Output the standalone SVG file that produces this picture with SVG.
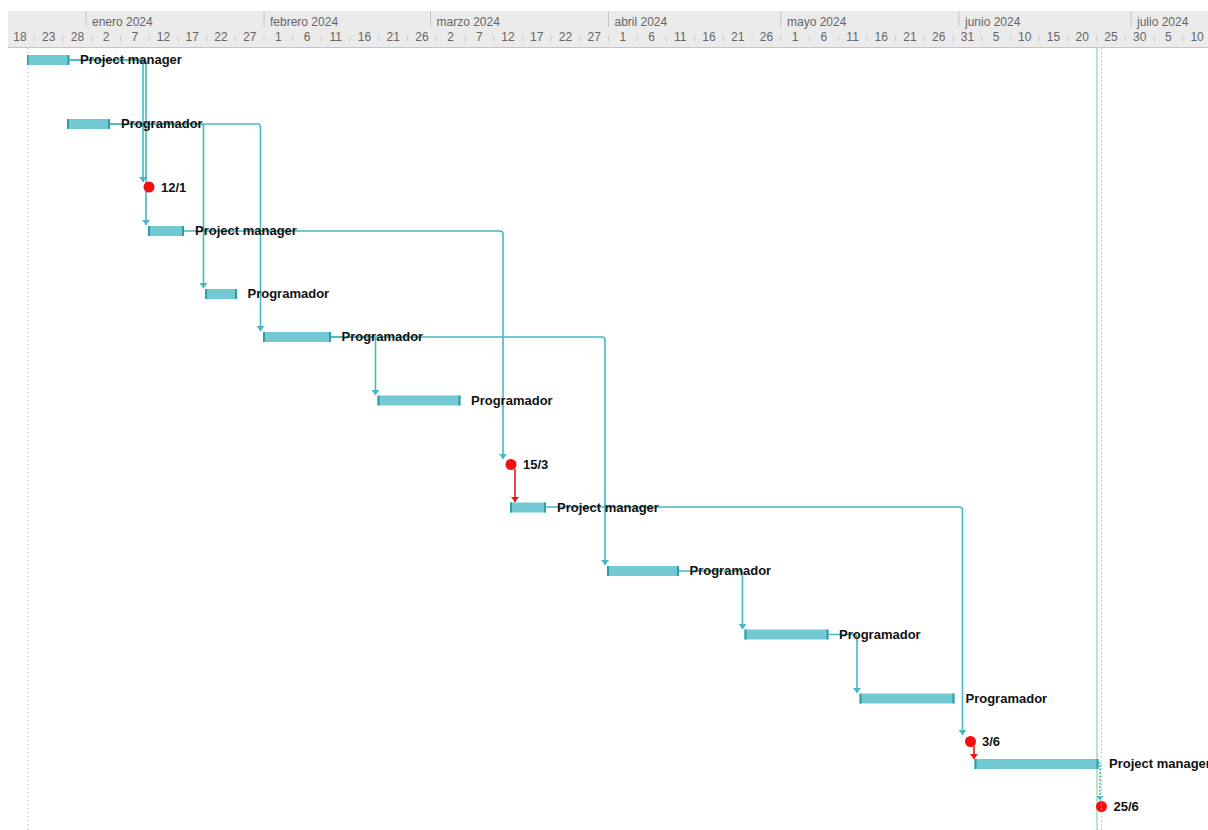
<svg xmlns="http://www.w3.org/2000/svg" width="1208" height="830" viewBox="0 0 1208 830">
  <style>
    .hdr { fill: #ebebeb; }
    .mon { font-family: "Liberation Sans", Arial, sans-serif; font-size: 12px; fill: #666; }
    .day { font-family: "Liberation Sans", Arial, sans-serif; font-size: 12px; fill: #666; text-anchor: middle; }
    .mline { stroke: #c6c6c6; stroke-width: 1; }
    .tick { stroke: #cfcfcf; stroke-width: 1; }
    .bar { fill: #73c9d1; }
    .cap { fill: #2b9da7; }
    .lbl { font-family: "Liberation Sans", Arial, sans-serif; font-size: 13px; font-weight: bold; fill: #111; }
    .conn { stroke: #45b8c2; stroke-width: 1.6; fill: none; }
    .conn-red { stroke: #e81515; stroke-width: 1.6; fill: none; }
    .ms { fill: #f20f0f; }
    .dots { stroke: #bdbdbd; stroke-width: 1; stroke-dasharray: 1.5 2.5; }
  </style>
  <defs>
    <marker id="arr" markerUnits="userSpaceOnUse" markerWidth="6" markerHeight="8" refX="5" refY="4" orient="auto" viewBox="0 0 6 8">
      <path d="M0,0 L5,4 L0,8 z" fill="#45b8c2"/>
    </marker>
    <marker id="arr-red" markerUnits="userSpaceOnUse" markerWidth="6" markerHeight="8" refX="5" refY="4" orient="auto" viewBox="0 0 6 8">
      <path d="M0,0 L5,4 L0,8 z" fill="#e81515"/>
    </marker>
  </defs>

  <rect width="1208" height="830" fill="#ffffff"/>

  <!-- timescale header -->
  <g id="timescale">
    <rect class="hdr" x="8" y="11" width="1200" height="37"/>
    <line x1="8" y1="47.5" x2="1208" y2="47.5" stroke="#c4c4c4" stroke-width="1"/>
    <!-- month separators -->
    <line class="mline" x1="86" y1="11" x2="86" y2="27"/>
    <line class="mline" x1="264" y1="11" x2="264" y2="27"/>
    <line class="mline" x1="430.5" y1="11" x2="430.5" y2="27"/>
    <line class="mline" x1="608.5" y1="11" x2="608.5" y2="27"/>
    <line class="mline" x1="780.8" y1="11" x2="780.8" y2="27"/>
    <line class="mline" x1="958.8" y1="11" x2="958.8" y2="27"/>
    <line class="mline" x1="1131" y1="11" x2="1131" y2="27"/>
    <text class="mon" x="92" y="25.5">enero 2024</text>
    <text class="mon" x="270" y="25.5">febrero 2024</text>
    <text class="mon" x="436.5" y="25.5">marzo 2024</text>
    <text class="mon" x="614.5" y="25.5">abril 2024</text>
    <text class="mon" x="787" y="25.5">mayo 2024</text>
    <text class="mon" x="965" y="25.5">junio 2024</text>
    <text class="mon" x="1137" y="25.5">julio 2024</text>
    <!-- 5-day cell separators -->
    <g class="tick">
      <line x1="34.3" y1="35" x2="34.3" y2="42"/>
      <line x1="63" y1="35" x2="63" y2="42"/>
      <line x1="91.7" y1="35" x2="91.7" y2="42"/>
      <line x1="120.5" y1="35" x2="120.5" y2="42"/>
      <line x1="149.2" y1="35" x2="149.2" y2="42"/>
      <line x1="177.9" y1="35" x2="177.9" y2="42"/>
      <line x1="206.6" y1="35" x2="206.6" y2="42"/>
      <line x1="235.3" y1="35" x2="235.3" y2="42"/>
      <line x1="264" y1="35" x2="264" y2="42"/>
      <line x1="292.7" y1="35" x2="292.7" y2="42"/>
      <line x1="321.4" y1="35" x2="321.4" y2="42"/>
      <line x1="350.1" y1="35" x2="350.1" y2="42"/>
      <line x1="378.8" y1="35" x2="378.8" y2="42"/>
      <line x1="407.6" y1="35" x2="407.6" y2="42"/>
      <line x1="436.3" y1="35" x2="436.3" y2="42"/>
      <line x1="465" y1="35" x2="465" y2="42"/>
      <line x1="493.7" y1="35" x2="493.7" y2="42"/>
      <line x1="522.4" y1="35" x2="522.4" y2="42"/>
      <line x1="551.1" y1="35" x2="551.1" y2="42"/>
      <line x1="579.8" y1="35" x2="579.8" y2="42"/>
      <line x1="608.5" y1="35" x2="608.5" y2="42"/>
      <line x1="637.2" y1="35" x2="637.2" y2="42"/>
      <line x1="665.9" y1="35" x2="665.9" y2="42"/>
      <line x1="694.7" y1="35" x2="694.7" y2="42"/>
      <line x1="723.4" y1="35" x2="723.4" y2="42"/>
      <line x1="752.1" y1="35" x2="752.1" y2="42"/>
      <line x1="780.8" y1="35" x2="780.8" y2="42"/>
      <line x1="809.5" y1="35" x2="809.5" y2="42"/>
      <line x1="838.2" y1="35" x2="838.2" y2="42"/>
      <line x1="866.9" y1="35" x2="866.9" y2="42"/>
      <line x1="895.6" y1="35" x2="895.6" y2="42"/>
      <line x1="924.3" y1="35" x2="924.3" y2="42"/>
      <line x1="953" y1="35" x2="953" y2="42"/>
      <line x1="981.8" y1="35" x2="981.8" y2="42"/>
      <line x1="1010.5" y1="35" x2="1010.5" y2="42"/>
      <line x1="1039.2" y1="35" x2="1039.2" y2="42"/>
      <line x1="1067.9" y1="35" x2="1067.9" y2="42"/>
      <line x1="1096.6" y1="35" x2="1096.6" y2="42"/>
      <line x1="1125.3" y1="35" x2="1125.3" y2="42"/>
      <line x1="1154" y1="35" x2="1154" y2="42"/>
      <line x1="1182.7" y1="35" x2="1182.7" y2="42"/>
    </g>
    <text class="day" x="20" y="41">18</text>
    <text class="day" x="48.7" y="41">23</text>
    <text class="day" x="77.4" y="41">28</text>
    <text class="day" x="106.1" y="41">2</text>
    <text class="day" x="134.8" y="41">7</text>
    <text class="day" x="163.5" y="41">12</text>
    <text class="day" x="192.2" y="41">17</text>
    <text class="day" x="220.9" y="41">22</text>
    <text class="day" x="249.7" y="41">27</text>
    <text class="day" x="278.4" y="41">1</text>
    <text class="day" x="307.1" y="41">6</text>
    <text class="day" x="335.8" y="41">11</text>
    <text class="day" x="364.5" y="41">16</text>
    <text class="day" x="393.2" y="41">21</text>
    <text class="day" x="421.9" y="41">26</text>
    <text class="day" x="450.6" y="41">2</text>
    <text class="day" x="479.3" y="41">7</text>
    <text class="day" x="508" y="41">12</text>
    <text class="day" x="536.8" y="41">17</text>
    <text class="day" x="565.5" y="41">22</text>
    <text class="day" x="594.2" y="41">27</text>
    <text class="day" x="622.9" y="41">1</text>
    <text class="day" x="651.6" y="41">6</text>
    <text class="day" x="680.3" y="41">11</text>
    <text class="day" x="709" y="41">16</text>
    <text class="day" x="737.7" y="41">21</text>
    <text class="day" x="766.4" y="41">26</text>
    <text class="day" x="795.1" y="41">1</text>
    <text class="day" x="823.9" y="41">6</text>
    <text class="day" x="852.6" y="41">11</text>
    <text class="day" x="881.3" y="41">16</text>
    <text class="day" x="910" y="41">21</text>
    <text class="day" x="938.7" y="41">26</text>
    <text class="day" x="967.4" y="41">31</text>
    <text class="day" x="996.1" y="41">5</text>
    <text class="day" x="1024.8" y="41">10</text>
    <text class="day" x="1053.5" y="41">15</text>
    <text class="day" x="1082.2" y="41">20</text>
    <text class="day" x="1111" y="41">25</text>
    <text class="day" x="1139.7" y="41">30</text>
    <text class="day" x="1168.4" y="41">5</text>
    <text class="day" x="1197.1" y="41">10</text>
  </g>

  <!-- project start and status lines -->
  <g id="guides">
    <line class="dots" x1="28" y1="48" x2="28" y2="830"/>
    <line x1="1097" y1="48" x2="1097" y2="830" stroke="#93d093" stroke-width="1.2"/>
  </g>

  <!-- dependency connectors -->
  <g id="connectors">
    <path class="conn" d="M69,60 H140 Q143,60 143,63 V182" marker-end="url(#arr)"/>
    <path class="conn" d="M69,60 H143 Q146,60 146,63 V225" marker-end="url(#arr)"/>
    <path class="conn" d="M110,124 H200.5 Q203.5,124 203.5,127 V288" marker-end="url(#arr)"/>
    <path class="conn" d="M110,124 H257.5 Q260.5,124 260.5,127 V331" marker-end="url(#arr)"/>
    <path class="conn" d="M184,231 H500 Q503,231 503,234 V459" marker-end="url(#arr)"/>
    <path class="conn" d="M331,337 H372.5 Q375.5,337 375.5,340 V395" marker-end="url(#arr)"/>
    <path class="conn" d="M331,337 H602 Q605,337 605,340 V565" marker-end="url(#arr)"/>
    <path class="conn-red" d="M515,469 V502" marker-end="url(#arr-red)"/>
    <path class="conn" d="M546,507 H959.5 Q962.5,507 962.5,510 V735" marker-end="url(#arr)"/>
    <path class="conn" d="M679,571 H739.5 Q742.5,571 742.5,574 V629" marker-end="url(#arr)"/>
    <path class="conn" d="M829,634.5 H854 Q857,634.5 857,637.5 V693" marker-end="url(#arr)"/>
    <path class="conn-red" d="M974,746 V759" marker-end="url(#arr-red)"/>
    <path class="conn" d="M1098.5,763 H1100 V800.5" stroke-dasharray="2 1.5" marker-end="url(#arr)"/>
  </g>

  <!-- tasks -->
  <g id="task-pm-1">
    <rect class="bar" x="27" y="55" width="42" height="10"/>
    <rect class="cap" x="27" y="55" width="1.5" height="10"/>
    <rect class="cap" x="67.5" y="55" width="2" height="10"/>
    <text class="lbl" x="80" y="64">Project manager</text>
  </g>
  <g id="task-prog-1">
    <rect class="bar" x="67" y="119" width="43" height="10"/>
    <rect class="cap" x="67" y="119" width="2" height="10"/>
    <rect class="cap" x="108" y="119" width="2" height="10"/>
    <text class="lbl" x="121" y="128">Programador</text>
  </g>
  <g id="milestone-12-1">
    <circle class="ms" cx="149" cy="187" r="5.5"/>
    <text class="lbl" x="161" y="191.5">12/1</text>
  </g>
  <g id="task-pm-2">
    <rect class="bar" x="148" y="226" width="36" height="10"/>
    <rect class="cap" x="148" y="226" width="2" height="10"/>
    <rect class="cap" x="182" y="226" width="2" height="10"/>
    <text class="lbl" x="195" y="235">Project manager</text>
  </g>
  <g id="task-prog-2">
    <rect class="bar" x="205" y="289" width="32" height="10"/>
    <rect class="cap" x="205" y="289" width="2" height="10"/>
    <rect class="cap" x="235" y="289" width="2" height="10"/>
    <text class="lbl" x="247.5" y="298">Programador</text>
  </g>
  <g id="task-prog-3">
    <rect class="bar" x="263" y="332" width="68" height="10"/>
    <rect class="cap" x="263" y="332" width="2" height="10"/>
    <rect class="cap" x="329" y="332" width="2" height="10"/>
    <text class="lbl" x="341.5" y="341">Programador</text>
  </g>
  <g id="task-prog-4">
    <rect class="bar" x="377.5" y="395.5" width="83" height="10"/>
    <rect class="cap" x="377.5" y="395.5" width="2" height="10"/>
    <rect class="cap" x="458.5" y="395.5" width="2" height="10"/>
    <text class="lbl" x="471" y="404.5">Programador</text>
  </g>
  <g id="milestone-15-3">
    <circle class="ms" cx="511" cy="464.5" r="5.5"/>
    <text class="lbl" x="523" y="469">15/3</text>
  </g>
  <g id="task-pm-3">
    <rect class="bar" x="510" y="502.5" width="36" height="10"/>
    <rect class="cap" x="510" y="502.5" width="2" height="10"/>
    <rect class="cap" x="544" y="502.5" width="2" height="10"/>
    <text class="lbl" x="557" y="511.5">Project manager</text>
  </g>
  <g id="task-prog-5">
    <rect class="bar" x="607" y="566" width="72" height="10"/>
    <rect class="cap" x="607" y="566" width="2" height="10"/>
    <rect class="cap" x="677" y="566" width="2" height="10"/>
    <text class="lbl" x="689.5" y="575">Programador</text>
  </g>
  <g id="task-prog-6">
    <rect class="bar" x="744.5" y="629.5" width="84" height="10"/>
    <rect class="cap" x="744.5" y="629.5" width="2" height="10"/>
    <rect class="cap" x="826.5" y="629.5" width="2" height="10"/>
    <text class="lbl" x="839" y="638.5">Programador</text>
  </g>
  <g id="task-prog-7">
    <rect class="bar" x="859.5" y="693.5" width="95" height="10"/>
    <rect class="cap" x="859.5" y="693.5" width="2" height="10"/>
    <rect class="cap" x="952.5" y="693.5" width="2" height="10"/>
    <text class="lbl" x="965.5" y="702.5">Programador</text>
  </g>
  <g id="milestone-3-6">
    <circle class="ms" cx="970.5" cy="741.5" r="5.5"/>
    <text class="lbl" x="982" y="746">3/6</text>
  </g>
  <g id="task-pm-4">
    <rect class="bar" x="974.5" y="759" width="124" height="10"/>
    <rect class="cap" x="974.5" y="759" width="2" height="10"/>
    <rect class="cap" x="1096.5" y="759" width="2" height="10"/>
    <text class="lbl" x="1109" y="768">Project manager</text>
  </g>
  <g id="milestone-25-6">
    <circle class="ms" cx="1101.5" cy="806.5" r="5.5"/>
    <text class="lbl" x="1113.5" y="811">25/6</text>
  </g>

  <!-- finish date line -->
  <line class="dots" x1="1101.5" y1="48" x2="1101.5" y2="830" stroke="#d4d4d4"/>
</svg>
